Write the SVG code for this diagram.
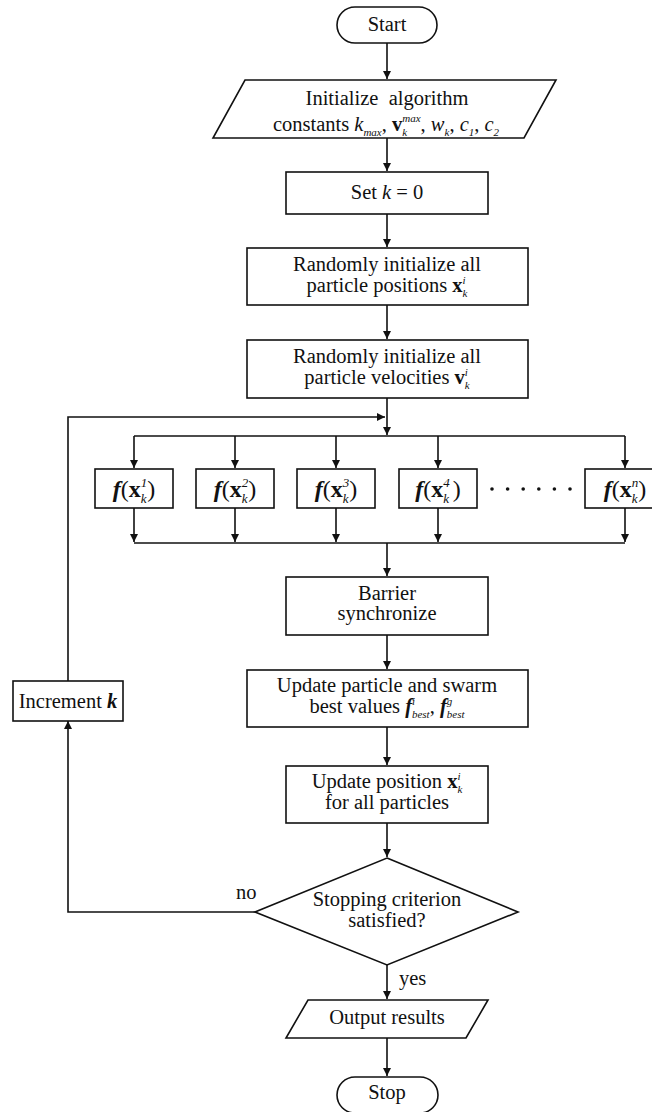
<svg xmlns="http://www.w3.org/2000/svg" width="652" height="1112" viewBox="0 0 652 1112">
<style>
.s{fill:#fff;stroke:#111;stroke-width:1.6}
.c{fill:none;stroke:#111;stroke-width:1.6}
text{font-family:"Liberation Serif","Times New Roman",serif;font-size:20.5px;fill:#111}
.m{text-anchor:middle}
.i{font-style:italic}
.b{font-weight:bold}
.sm{font-size:11px;font-style:italic}
.f{font-size:24px}
.fs{font-size:13px;font-style:italic}
</style>
<defs>
<marker id="ah" markerUnits="userSpaceOnUse" markerWidth="8" markerHeight="10" refX="8" refY="4" orient="auto">
<path d="M0,0 L8,4 L0,8 Z" fill="#111"/>
</marker>
</defs>
<rect width="652" height="1112" fill="#fff"/>
<g id="connectors">
<path class="c" d="M387,43 V79" marker-end="url(#ah)"/>
<path class="c" d="M387,138 V171" marker-end="url(#ah)"/>
<path class="c" d="M387,214 V247" marker-end="url(#ah)"/>
<path class="c" d="M387,305 V339" marker-end="url(#ah)"/>
<path class="c" d="M387,398 V435" marker-end="url(#ah)"/>
<path class="c" d="M134,436 H625"/>
<path class="c" d="M134,436 V468" marker-end="url(#ah)"/>
<path class="c" d="M235,436 V468" marker-end="url(#ah)"/>
<path class="c" d="M336,436 V468" marker-end="url(#ah)"/>
<path class="c" d="M438,436 V468" marker-end="url(#ah)"/>
<path class="c" d="M625,436 V468" marker-end="url(#ah)"/>
<path class="c" d="M134,508 V542" marker-end="url(#ah)"/>
<path class="c" d="M235,508 V542" marker-end="url(#ah)"/>
<path class="c" d="M336,508 V542" marker-end="url(#ah)"/>
<path class="c" d="M438,508 V542" marker-end="url(#ah)"/>
<path class="c" d="M625,508 V542" marker-end="url(#ah)"/>
<path class="c" d="M134,543 H625"/>
<path class="c" d="M387,543 V576" marker-end="url(#ah)"/>
<path class="c" d="M387,635 V669" marker-end="url(#ah)"/>
<path class="c" d="M387,727 V765" marker-end="url(#ah)"/>
<path class="c" d="M387,823 V857" marker-end="url(#ah)"/>
<path class="c" d="M387,965 V999" marker-end="url(#ah)"/>
<path class="c" d="M387,1038 V1076" marker-end="url(#ah)"/>
<path class="c" d="M255,912 H68 V721" marker-end="url(#ah)"/>
<path class="c" d="M68,681 V417 H385" marker-end="url(#ah)"/>
<text x="236" y="899">no</text>
<text x="399" y="985">yes</text>
</g>
<g id="start">
<rect class="s" x="337" y="7" width="100" height="36" rx="18"/>
<text class="m" x="387" y="31">Start</text>
</g>
<g id="init">
<polygon class="s" points="245,80 556,80 524,138 213,138"/>
<text class="m" x="387" y="105">Initialize&#160; algorithm</text>
<text class="m" x="386" y="131">constants <tspan class="i">k</tspan><tspan class="sm" dy="5">max</tspan><tspan dy="-5">, </tspan><tspan class="b">v</tspan><tspan class="sm" dy="-9">max</tspan><tspan class="sm" dx="-18.3" dy="14">k</tspan><tspan dx="13.4" dy="-5">, </tspan><tspan class="i">w</tspan><tspan class="sm" dy="5">k</tspan><tspan dy="-5">, </tspan><tspan class="i">c</tspan><tspan class="sm" dy="5">1</tspan><tspan dy="-5">, </tspan><tspan class="i">c</tspan><tspan class="sm" dy="5">2</tspan></text>
</g>
<g id="setk">
<rect class="s" x="286" y="172" width="202" height="42"/>
<text class="m" x="387" y="199">Set <tspan class="i">k</tspan> = 0</text>
</g>
<g id="positions">
<rect class="s" x="247" y="248" width="281" height="57"/>
<text class="m" x="387" y="271">Randomly initialize all</text>
<text class="m" x="387" y="292">particle positions <tspan class="b">x</tspan><tspan class="sm" dy="-8">i</tspan><tspan class="sm" dx="-3.1" dy="13">k</tspan></text>
</g>
<g id="velocities">
<rect class="s" x="247" y="340" width="281" height="58"/>
<text class="m" x="387" y="363">Randomly initialize all</text>
<text class="m" x="387" y="384">particle velocities <tspan class="b">v</tspan><tspan class="sm" dy="-8">i</tspan><tspan class="sm" dx="-3.1" dy="13">k</tspan></text>
</g>
<g id="f1">
<rect class="s" x="95" y="469" width="78" height="39"/>
<text class="m f" x="134" y="497"><tspan class="b i">f</tspan>(<tspan class="b">x</tspan><tspan class="fs" dy="-10">1</tspan><tspan class="fs" dx="-6.5" dy="16">k</tspan><tspan dx="0.7" dy="-6">)</tspan></text>
</g>
<g id="f2">
<rect class="s" x="196" y="469" width="78" height="39"/>
<text class="m f" x="235" y="497"><tspan class="b i">f</tspan>(<tspan class="b">x</tspan><tspan class="fs" dy="-10">2</tspan><tspan class="fs" dx="-6.5" dy="16">k</tspan><tspan dx="0.7" dy="-6">)</tspan></text>
</g>
<g id="f3">
<rect class="s" x="297" y="469" width="78" height="39"/>
<text class="m f" x="336" y="497"><tspan class="b i">f</tspan>(<tspan class="b">x</tspan><tspan class="fs" dy="-10">3</tspan><tspan class="fs" dx="-6.5" dy="16">k</tspan><tspan dx="0.7" dy="-6">)</tspan></text>
</g>
<g id="f4">
<rect class="s" x="399" y="469" width="78" height="39"/>
<text class="m f" x="438" y="497"><tspan class="b i">f</tspan>(<tspan class="b">x</tspan><tspan class="fs" dy="-10">4</tspan><tspan class="fs" dx="-6.5" dy="16">k</tspan><tspan dx="3.5" dy="-6">)</tspan></text>
</g>
<g id="dots" fill="#111">
<circle cx="492" cy="489" r="1.8"/>
<circle cx="507.6" cy="489" r="1.8"/>
<circle cx="523.2" cy="489" r="1.8"/>
<circle cx="538.8" cy="489" r="1.8"/>
<circle cx="554.4" cy="489" r="1.8"/>
<circle cx="570" cy="489" r="1.8"/>
</g>
<g id="fn">
<rect class="s" x="585" y="469" width="80" height="39"/>
<text class="m f" x="625" y="497"><tspan class="b i">f</tspan>(<tspan class="b">x</tspan><tspan class="fs" dy="-10">n</tspan><tspan class="fs" dx="-6.5" dy="16">k</tspan><tspan dx="0.7" dy="-6">)</tspan></text>
</g>
<g id="barrier">
<rect class="s" x="286" y="577" width="202" height="58"/>
<text class="m" x="387" y="600">Barrier</text>
<text class="m" x="387" y="620">synchronize</text>
</g>
<g id="updatebest">
<rect class="s" x="247" y="670" width="281" height="57"/>
<text class="m" x="387" y="692">Update particle and swarm</text>
<text class="m" x="387" y="713">best values <tspan class="b i">f</tspan><tspan class="sm" dy="-8">i</tspan><tspan class="sm" dx="-3.1" dy="13">best</tspan><tspan dy="-5">, </tspan><tspan class="b i">f</tspan><tspan class="sm" dy="-8">g</tspan><tspan class="sm" dx="-5.5" dy="13">best</tspan></text>
</g>
<g id="updatepos">
<rect class="s" x="286" y="766" width="202" height="57"/>
<text class="m" x="387" y="788">Update position <tspan class="b">x</tspan><tspan class="sm" dy="-8">i</tspan><tspan class="sm" dx="-3.1" dy="13">k</tspan></text>
<text class="m" x="387" y="809">for all particles</text>
</g>
<g id="increment">
<rect class="s" x="13" y="681" width="110" height="40"/>
<text class="m" x="68" y="708">Increment <tspan class="b i">k</tspan></text>
</g>
<g id="decision">
<polygon class="s" points="387,858 518,912 387,965 255,912"/>
<text class="m" x="387" y="906">Stopping criterion</text>
<text class="m" x="387" y="927">satisfied?</text>
</g>
<g id="output">
<polygon class="s" points="308,1000 488,1000 466,1038 286,1038"/>
<text class="m" x="387" y="1024">Output results</text>
</g>
<g id="stop">
<rect class="s" x="337" y="1077" width="101" height="36" rx="18"/>
<text class="m" x="387" y="1099">Stop</text>
</g>
</svg>
